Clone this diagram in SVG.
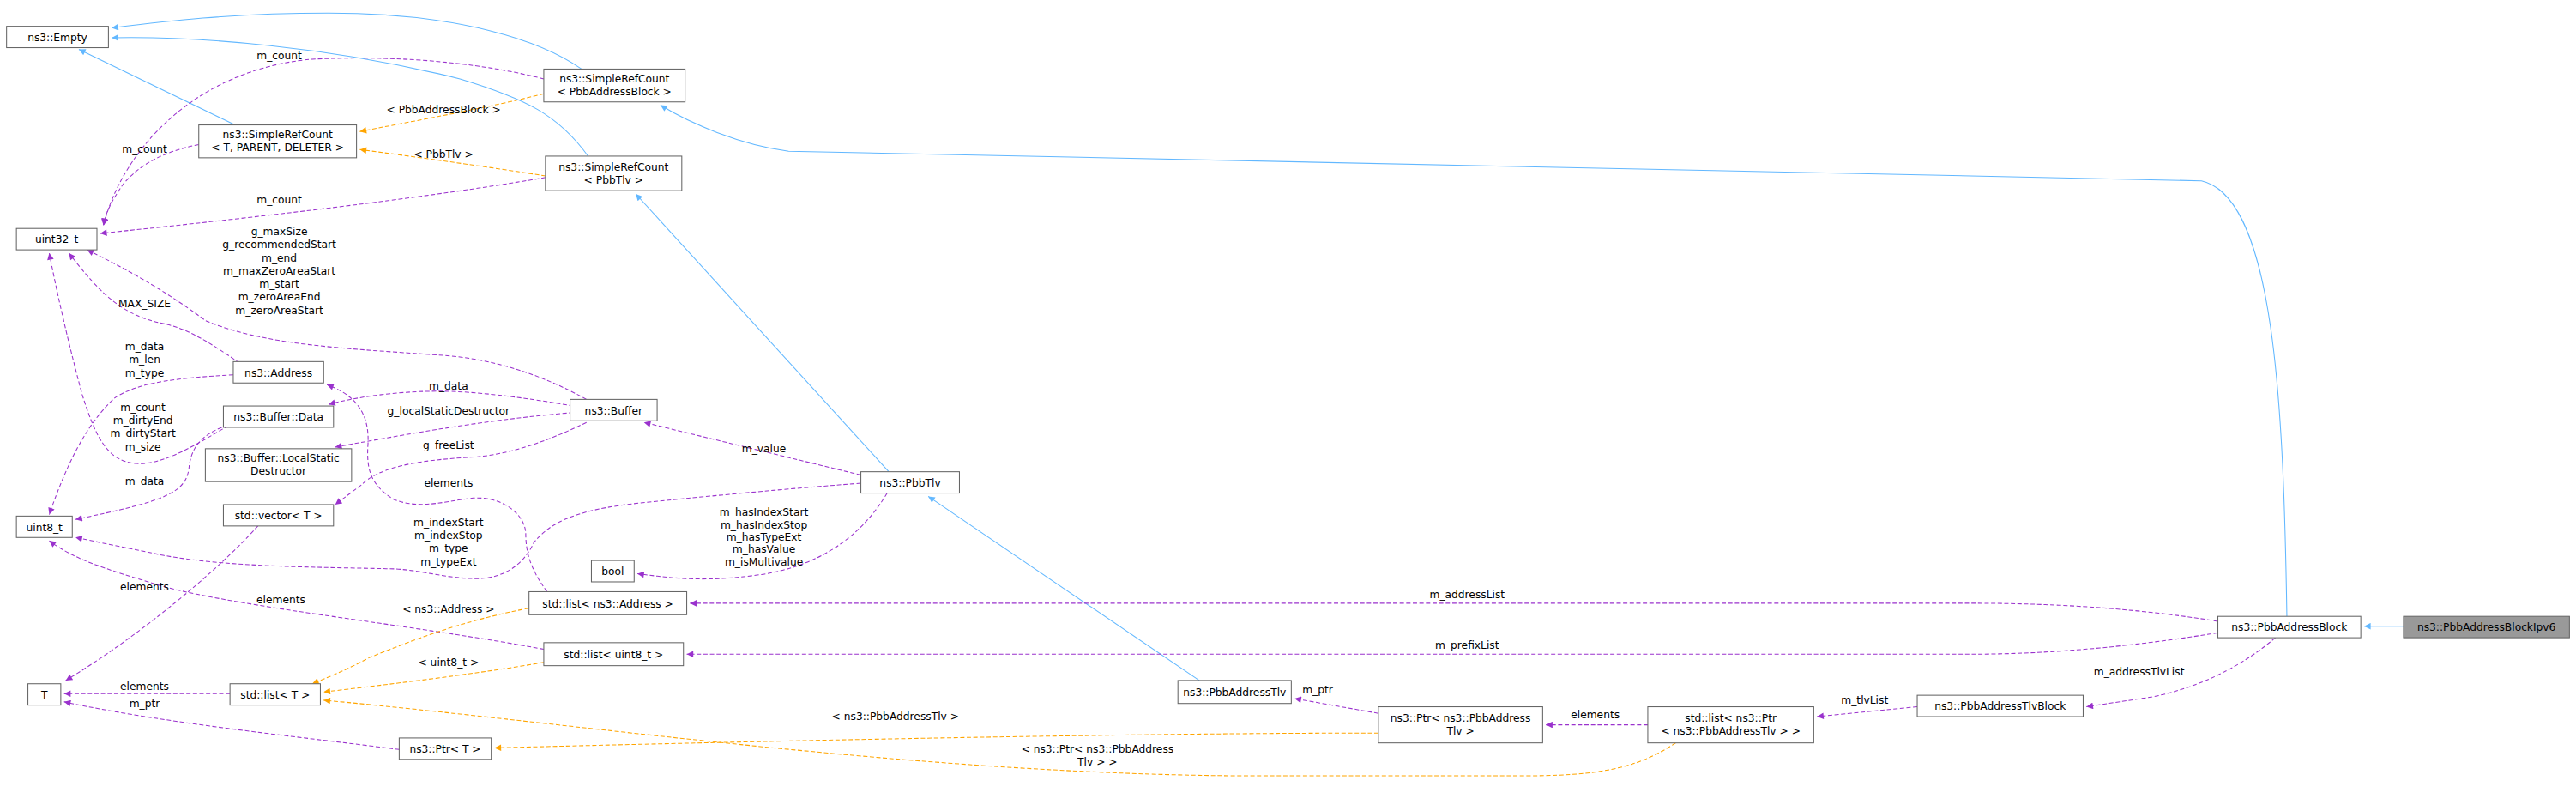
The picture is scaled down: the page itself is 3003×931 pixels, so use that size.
<svg xmlns="http://www.w3.org/2000/svg" width="3003" height="931" viewBox="0 0 3003 931">
<style>
text{font-family:"DejaVu Sans","Liberation Sans",sans-serif;font-size:6.4px;fill:#000;text-anchor:middle}
.n rect{fill:#fff;stroke:#666;stroke-width:0.55}
.n.cur rect{fill:#999}
.b{fill:none;stroke:#63b8ff;stroke-width:0.55;marker-end:url(#ab)}
.p{fill:none;stroke:#9a32cd;stroke-width:0.55;stroke-dasharray:2.6,1.4;marker-end:url(#ap)}
.o{fill:none;stroke:#ffa500;stroke-width:0.55;stroke-dasharray:2.6,1.4;marker-end:url(#ao)}
</style>
<defs>
<marker id="ab" markerUnits="userSpaceOnUse" viewBox="0 0 10 10" refX="10" refY="5" markerWidth="5" markerHeight="4" orient="auto"><path d="M0,0L10,5L0,10z" fill="#63b8ff"/></marker>
<marker id="ap" markerUnits="userSpaceOnUse" viewBox="0 0 10 10" refX="10" refY="5" markerWidth="5" markerHeight="4" orient="auto"><path d="M0,0L10,5L0,10z" fill="#9a32cd"/></marker>
<marker id="ao" markerUnits="userSpaceOnUse" viewBox="0 0 10 10" refX="10" refY="5" markerWidth="5" markerHeight="4" orient="auto"><path d="M0,0L10,5L0,10z" fill="#ffa500"/></marker>
</defs>
<rect width="3003" height="931" fill="#fff"/>
<g transform="scale(1.9152)">
<g id="connectors">
<path class="b" d="M354,42 C330,25 280,8 200,8 C140,8 100,13 68,17"/>
<path class="b" d="M358,95 C340,70 320,60 280,48 C200,28 120,22 68,23"/>
<path class="b" d="M143,76 L48,30"/>
<path class="b" d="M541,287 L387,118"/>
<path class="b" d="M730,414 L565,302"/>
<path class="b" d="M1392,375 C1390,250 1385,120 1340,110 L480,92 C450,88 420,75 402,64"/>
<path class="b" d="M1463,381 L1439,381"/>
<path class="p" d="M331,48 C300,40 250,33 190,36 C120,42 75,90 63,137"/>
<path class="p" d="M121,88 C100,92 85,100 75,112 C68,122 64,130 63,137"/>
<path class="p" d="M332,108 C250,122 130,135 61,142"/>
<path class="p" d="M357,243 C330,228 300,218 267,216 C210,212 160,210 125,195 C105,180 80,165 53,152"/>
<path class="p" d="M146,221 C130,210 115,200 100,197 C75,192 62,180 42,154"/>
<path class="p" d="M139,259 C120,270 100,283 83,282 C65,281 58,265 50,240 C42,210 35,180 30,154"/>
<path class="p" d="M142,228 C110,230 85,232 70,242 C50,260 38,290 30,313"/>
<path class="p" d="M135,260 C120,266 116,275 115,285 C113,300 100,305 46,316"/>
<path class="p" d="M349,247 C320,242 290,238 267,238 C240,238 215,242 200,246"/>
<path class="p" d="M349,251 C300,255 260,262 204,272"/>
<path class="p" d="M357,257 C330,270 310,276 290,278 C250,280 230,285 220,295 L204,307"/>
<path class="p" d="M333,360 C322,345 320,335 320,324 C319,312 305,302 288,303 C270,305 256,310 240,304 C225,295 223,285 224,270 C225,250 215,240 199,234"/>
<path class="p" d="M524,294 C470,298 420,303 390,306 C350,310 335,318 325,330 C318,345 305,352 290,352 C270,352 255,346 235,346 C190,345 140,345 100,338 L46,327"/>
<path class="p" d="M540,300 C525,325 500,345 460,350 C430,354 410,352 388,349"/>
<path class="p" d="M524,289 L392,257"/>
<path class="p" d="M1350,378 C1300,370 1250,367 1200,367 L420,367"/>
<path class="p" d="M1350,385 C1300,393 1250,398 1200,398 L418,398"/>
<path class="p" d="M1385,388 C1365,405 1340,418 1310,424 L1270,430"/>
<path class="p" d="M1167,430 L1106,436"/>
<path class="p" d="M1003,441 L941,441"/>
<path class="p" d="M839,434 L788,425"/>
<path class="p" d="M331,395 C250,380 150,370 100,357 C60,345 45,340 30,329"/>
<path class="p" d="M157,320 C130,350 80,390 40,414"/>
<path class="p" d="M140,422 L39,422"/>
<path class="p" d="M243,456 C180,448 100,440 39,427"/>
<path class="o" d="M331,57 C300,65 250,74 219,80"/>
<path class="o" d="M332,107 C300,102 250,95 219,91"/>
<path class="o" d="M322,370 C280,378 250,390 225,400 C210,408 200,412 190,416"/>
<path class="o" d="M331,403 C290,410 240,416 197,421"/>
<path class="o" d="M1020,452 C1000,465 980,472 930,472 L750,472 C550,470 350,440 197,426"/>
<path class="o" d="M839,446 C700,446 500,450 301,455"/>
<text x="170" y="36">m_count</text>
<text x="88" y="93">m_count</text>
<text x="170" y="124">m_count</text>
<text x="270" y="69">&lt; PbbAddressBlock &gt;</text>
<text x="270" y="96">&lt; PbbTlv &gt;</text>
<text x="170" y="143">g_maxSize</text>
<text x="170" y="151">g_recommendedStart</text>
<text x="170" y="159">m_end</text>
<text x="170" y="167">m_maxZeroAreaStart</text>
<text x="170" y="175">m_start</text>
<text x="170" y="183">m_zeroAreaEnd</text>
<text x="170" y="191">m_zeroAreaStart</text>
<text x="88" y="187">MAX_SIZE</text>
<text x="88" y="213">m_data</text>
<text x="88" y="221">m_len</text>
<text x="88" y="229">m_type</text>
<text x="87" y="250">m_count</text>
<text x="87" y="258">m_dirtyEnd</text>
<text x="87" y="266">m_dirtyStart</text>
<text x="87" y="274">m_size</text>
<text x="88" y="295">m_data</text>
<text x="273" y="237">m_data</text>
<text x="273" y="252">g_localStaticDestructor</text>
<text x="273" y="273">g_freeList</text>
<text x="273" y="296">elements</text>
<text x="273" y="320">m_indexStart</text>
<text x="273" y="328">m_indexStop</text>
<text x="273" y="336">m_type</text>
<text x="273" y="344">m_typeExt</text>
<text x="88" y="359">elements</text>
<text x="171" y="367">elements</text>
<text x="273" y="373">&lt; ns3::Address &gt;</text>
<text x="273" y="405">&lt; uint8_t &gt;</text>
<text x="88" y="420">elements</text>
<text x="88" y="430">m_ptr</text>
<text x="465" y="275">m_value</text>
<text x="465" y="314">m_hasIndexStart</text>
<text x="465" y="321.5">m_hasIndexStop</text>
<text x="465" y="329">m_hasTypeExt</text>
<text x="465" y="336.5">m_hasValue</text>
<text x="465" y="344">m_isMultivalue</text>
<text x="893" y="364">m_addressList</text>
<text x="893" y="395">m_prefixList</text>
<text x="1302" y="411">m_addressTlvList</text>
<text x="1135" y="428">m_tlvList</text>
<text x="971" y="437">elements</text>
<text x="802" y="422">m_ptr</text>
<text x="545" y="438">&lt; ns3::PbbAddressTlv &gt;</text>
<text x="668" y="458">&lt; ns3::Ptr&lt; ns3::PbbAddress</text>
<text x="668" y="466">Tlv &gt; &gt;</text>
</g>
<g id="n_empty" class="n"><rect x="4" y="16" width="62" height="13"/><text x="35" y="25">ns3::Empty</text></g>
<g id="n_src_pba" class="n"><rect x="331" y="42" width="86" height="20"/><text x="374" y="50">ns3::SimpleRefCount</text><text x="374" y="58">&lt; PbbAddressBlock &gt;</text></g>
<g id="n_src_tpd" class="n"><rect x="121" y="76" width="96" height="20"/><text x="169" y="84">ns3::SimpleRefCount</text><text x="169" y="92">&lt; T, PARENT, DELETER &gt;</text></g>
<g id="n_src_tlv" class="n"><rect x="332" y="95" width="83" height="21"/><text x="373.5" y="104">ns3::SimpleRefCount</text><text x="373.5" y="112">&lt; PbbTlv &gt;</text></g>
<g id="n_uint32" class="n"><rect x="10" y="139" width="49" height="13"/><text x="34.5" y="148">uint32_t</text></g>
<g id="n_address" class="n"><rect x="142" y="220" width="55" height="13"/><text x="169.5" y="229">ns3::Address</text></g>
<g id="n_bufdata" class="n"><rect x="136" y="247" width="67" height="13"/><text x="169.5" y="256">ns3::Buffer::Data</text></g>
<g id="n_lsd" class="n"><rect x="125" y="273" width="89" height="20"/><text x="169.5" y="281">ns3::Buffer::LocalStatic</text><text x="169.5" y="289">Destructor</text></g>
<g id="n_buffer" class="n"><rect x="347" y="243" width="53" height="13"/><text x="373.5" y="252">ns3::Buffer</text></g>
<g id="n_vector" class="n"><rect x="136" y="307" width="67" height="13"/><text x="169.5" y="316">std::vector&lt; T &gt;</text></g>
<g id="n_uint8" class="n"><rect x="10" y="314" width="34" height="13"/><text x="27" y="323">uint8_t</text></g>
<g id="n_pbbtlv" class="n"><rect x="524" y="287" width="60" height="13"/><text x="554" y="296">ns3::PbbTlv</text></g>
<g id="n_bool" class="n"><rect x="360" y="341" width="26" height="13"/><text x="373" y="350">bool</text></g>
<g id="n_listaddr" class="n"><rect x="322" y="360" width="96" height="14"/><text x="370" y="369.5">std::list&lt; ns3::Address &gt;</text></g>
<g id="n_listu8" class="n"><rect x="331" y="391" width="85" height="14"/><text x="373.5" y="400.5">std::list&lt; uint8_t &gt;</text></g>
<g id="n_T" class="n"><rect x="17" y="416" width="20" height="13"/><text x="27" y="425">T</text></g>
<g id="n_listT" class="n"><rect x="140" y="416" width="55" height="13"/><text x="167.5" y="425">std::list&lt; T &gt;</text></g>
<g id="n_ptrT" class="n"><rect x="243" y="449" width="56" height="13"/><text x="271" y="458">ns3::Ptr&lt; T &gt;</text></g>
<g id="n_pbbaddrtlv" class="n"><rect x="717" y="414" width="69" height="14"/><text x="751.5" y="423.5">ns3::PbbAddressTlv</text></g>
<g id="n_ptrtlv" class="n"><rect x="839" y="430" width="100" height="22"/><text x="889" y="439">ns3::Ptr&lt; ns3::PbbAddress</text><text x="889" y="447">Tlv &gt;</text></g>
<g id="n_listptr" class="n"><rect x="1003" y="430" width="101" height="22"/><text x="1053.5" y="439">std::list&lt; ns3::Ptr</text><text x="1053.5" y="447">&lt; ns3::PbbAddressTlv &gt; &gt;</text></g>
<g id="n_tlvblock" class="n"><rect x="1167" y="423" width="101" height="13"/><text x="1217.5" y="432">ns3::PbbAddressTlvBlock</text></g>
<g id="n_pbbaddrblock" class="n"><rect x="1350" y="375" width="87" height="13"/><text x="1393.5" y="384">ns3::PbbAddressBlock</text></g>
<g id="n_ipv6" class="n cur"><rect x="1463" y="375" width="101" height="13"/><text x="1513.5" y="384">ns3::PbbAddressBlockIpv6</text></g>
</g>
</svg>
